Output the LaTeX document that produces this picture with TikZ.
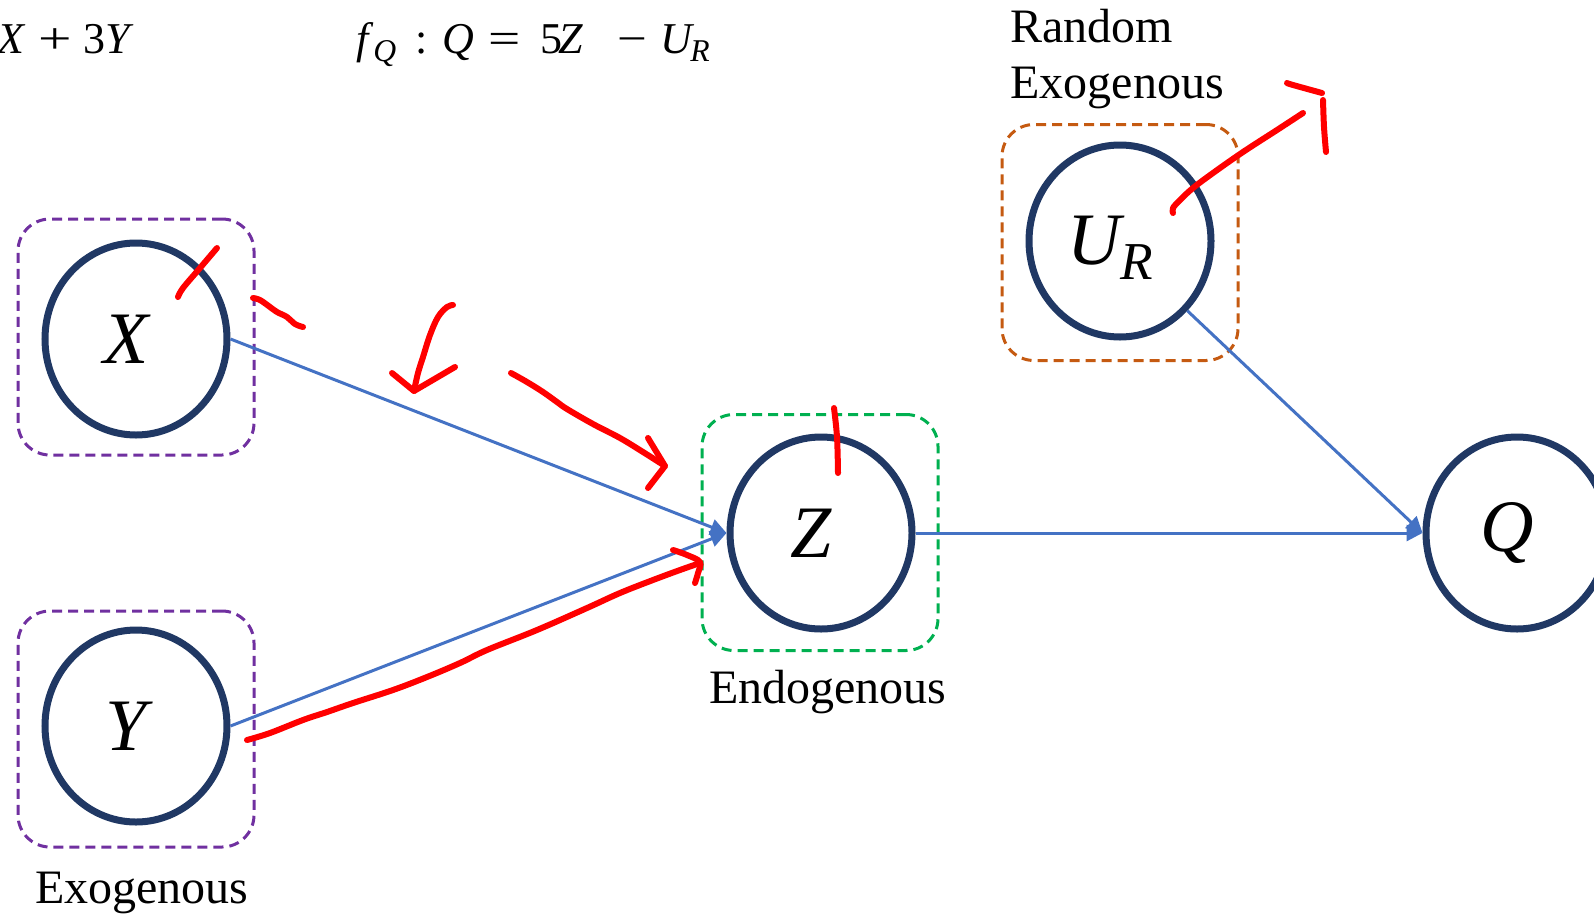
\documentclass[tikz,border=0pt]{standalone}
\usepackage{fontspec}
\setmainfont{Liberation Serif}
\usetikzlibrary{shapes.geometric,arrows.meta}
\definecolor{navy}{HTML}{203864}
\definecolor{eblue}{HTML}{4472C4}
\definecolor{bpurple}{HTML}{7030A0}
\definecolor{bgreen}{HTML}{00B050}
\definecolor{borange}{HTML}{C55A11}
\definecolor{ink}{HTML}{FF0000}
\newcommand{\sbs}[1]{\raisebox{-0.2em}[0pt][0pt]{\fontsize{0.72em}{1em}\selectfont\itshape #1}}
\newcommand{\pc}[2]{\makebox[#1][l]{#2}}
\newcommand{\lab}[1]{\makebox[0pt]{#1\hspace*{10pt}}}
\begin{document}
\begin{tikzpicture}[x=0.5pt,y=-0.5pt,
 var/.style={ellipse, draw=navy, line width=3.5pt, minimum width=91pt, minimum height=96pt, inner sep=0pt, font=\fontsize{37}{40}\selectfont\itshape},
 grp/.style={rectangle, draw=#1, dash pattern=on 5pt off 3pt, line width=1.5pt, rounded corners=16pt, minimum width=118pt, minimum height=118pt, inner sep=0pt},
 edge/.style={draw=eblue, line width=1.5pt, -{Triangle[length=8pt,width=8pt]}},
 lbl/.style={font=\fontsize{24}{28}\selectfont, inner sep=0pt},
 eq/.style={font=\fontsize{22}{24}\selectfont, inner sep=0pt},
 pen/.style={draw=ink, line width=3pt, line cap=round, line join=round}]
\useasboundingbox (0,0) rectangle (1594,916);

% group boxes
\node[grp=bpurple] (bx) at (136,337) {};
\node[grp=bpurple] (by) at (136,729) {};
\node[grp=bgreen] (bz) at (820,532.5) {};
\node[grp=borange] (bu) at (1120,242.5) {};

% variables
\node[var] (X) at (136,339) {\lab{X}};
\node[var] (Y) at (136,726) {\lab{Y}};
\node[var] (Z) at (821,533) {\lab{Z}};
\node[var] (UR) at (1120,241) {\lab{U\sbs{R}}};
\node[var] (Q) at (1517,533) {\lab{Q}};

% labels
\node[lbl, anchor=base] (exo) at (142,903) {Exogenous};
\node[lbl, anchor=base] (endo) at (828,703) {Endogenous};
\node[lbl, anchor=base west] (rand1) at (1010,42) {Random};
\node[lbl, anchor=base west] (rand2) at (1010,98) {Exogenous};

% equations
\node[eq, anchor=base west] (eqz) at (-3,53) {\pc{20.5pt}{\textit{X}}\pc{22.5pt}{\scalebox{1.35}[1]{+}}\pc{11pt}{3}\textit{Y}};
\node[eq, anchor=base west] (eqq) at (356,53) {\pc{8.5pt}{\textit{f}}\pc{21pt}{\sbs{Q}}\pc{13.5pt}{:}\pc{23pt}{\textit{Q}}\pc{26pt}{\scalebox{1.3}[1]{=}}\pc{9pt}{5}\pc{29.5pt}{\textit{Z}}\pc{21.5pt}{\scalebox{1.2}[1]{−}}\pc{15pt}{\textit{U}}\sbs{R}};

% edges
\draw[edge] (X.east) -- (Z.west);
\draw[edge] (Y.east) -- (Z.west);
\draw[edge] (Z.east) -- (Q.west);
\draw[edge] (UR.-46) -- (Q.west);

% red pen annotations
\draw[pen] plot[smooth, tension=0.6] coordinates {(178,297) (183,288) (200,268) (217,248)};
\draw[pen] plot[smooth, tension=0.6] coordinates {(253,298) (260,300) (270,307) (277,312) (287,317) (295,324) (303,327)};
\draw[pen] plot[smooth, tension=0.6] coordinates {(453,305) (447,307) (438,317) (430,335) (423,357) (418,373) (414,391)};
\draw[pen] (392,373) -- (414,391) -- (455,367);
\draw[pen] plot[smooth, tension=0.6] coordinates {(511,373) (527,382) (543,392) (557,402) (567,409) (593,424) (620,438) (643,452) (665,466)};
\draw[pen] (648,438) -- (665,466) -- (648,488);
\draw[pen] plot[smooth, tension=0.6] coordinates {(247,740) (270,733) (303,720) (327,712) (353,703) (393,690) (427,677) (460,663) (487,650) (537,630) (587,608) (620,593) (653,580) (680,570) (700,563)};
\draw[pen] plot[smooth, tension=0.6] coordinates {(673,550) (687,555) (700,562) (698,573) (695,583)};
\draw[pen] plot[smooth, tension=0.6] coordinates {(834,408) (837,437) (838,473)};
\draw[pen] plot[smooth, tension=0.6] coordinates {(1173,213) (1173,208) (1180,200) (1193,188) (1213,173) (1243,152) (1277,130) (1303,113)};
\draw[pen] plot[smooth, tension=0.6] coordinates {(1287,83) (1293,85) (1322,93)};
\draw[pen] plot[smooth, tension=0.6] coordinates {(1323,100) (1324,127) (1326,152)};
\end{tikzpicture}
\end{document}
